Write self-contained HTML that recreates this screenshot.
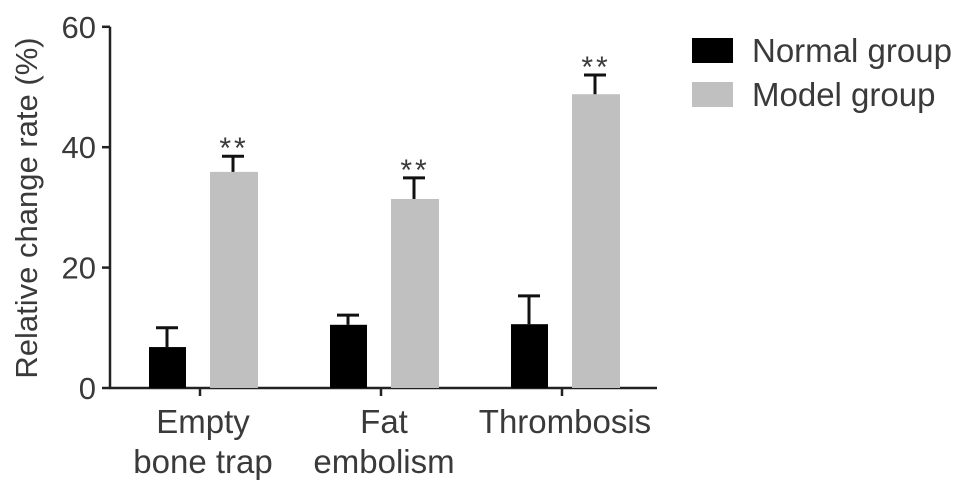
<!DOCTYPE html>
<html><head><meta charset="utf-8"><style>
body{margin:0;background:#fff;}
svg text{font-family:"Liberation Sans",Arial,sans-serif;fill:#3a3a3a;}
</style></head><body>
<svg id="chart" width="969" height="495" xmlns="http://www.w3.org/2000/svg"></svg>
<script>
const categories=[["Empty","bone trap"],["Fat","embolism"],["Thrombosis"]];
const normalValues=[6.8,10.5,10.6];
const normalErrors=[3.2,1.6,4.7];
const modelValues=[35.9,31.4,48.8];
const modelErrors=[2.6,3.5,3.2];
const yTicks=[0,20,40,60];
const sig=["**","**","**"];

const svg=document.getElementById('chart');
const NS="http://www.w3.org/2000/svg";
function mk(t,a,p){const e=document.createElementNS(NS,t);for(const k in a)e.setAttribute(k,a[k]);(p||svg).appendChild(e);return e;}
const y0=388,pxPerUnit=6.02;
function y(v){return y0-v*pxPerUnit;}
function gx(i){return 149+i*181;}

let ax=mk('line',{x1:110,y1:y(60),x2:110,y2:y0+1,stroke:'#222','stroke-width':2.5});

let xa=mk('line',{x1:109,y1:y0,x2:657,y2:y0,stroke:'#222','stroke-width':2.5});

yTicks.forEach(t=>{
  let l=mk('line',{x1:102,y1:y(t),x2:110,y2:y(t),stroke:'#222','stroke-width':2.5});
  
  let tx=mk('text',{x:96,y:y(t)+11,'text-anchor':'end','font-size':31});tx.textContent=t;
  
});
let yt=mk('text',{x:0,y:0,'text-anchor':'middle','font-size':31,transform:'translate(37,208) rotate(-90)'});
yt.textContent='Relative change rate (%)';


function errbar(cx,v,e){
  let g=mk('g',{});
  
  mk('line',{x1:cx,y1:y(v),x2:cx,y2:y(v+e),stroke:'#111','stroke-width':3},g);
  mk('line',{x1:cx-11,y1:y(v+e),x2:cx+11,y2:y(v+e),stroke:'#111','stroke-width':3},g);
}
categories.forEach((c,i)=>{
  const bx=gx(i);
  let b=mk('rect',{x:bx,y:y(normalValues[i]),width:37,height:normalValues[i]*pxPerUnit,fill:'#000'});
  
  errbar(bx+18,normalValues[i],normalErrors[i]);
  let m=mk('rect',{x:bx+61,y:y(modelValues[i]),width:48,height:modelValues[i]*pxPerUnit,fill:'#c0c0c0'});
  
  errbar(bx+84,modelValues[i],modelErrors[i]);
  let s=mk('text',{x:bx+85,y:y(modelValues[i]+modelErrors[i])+2,'text-anchor':'middle','font-size':30,'letter-spacing':'3'});
  s.textContent=sig[i];
  const tx=bx+51;
  let tk=mk('line',{x1:tx,y1:y0,x2:tx,y2:y0+8,stroke:'#222','stroke-width':2.5});
  
  c.forEach((ln,j)=>{
    let t=mk('text',{x:tx+3,y:433+j*40,'text-anchor':'middle','font-size':33});t.textContent=ln;
    
  });
});
[["Normal group","#000"],["Model group","#c0c0c0"]].forEach((l,i)=>{
  let g=mk('g',{});
  
  mk('rect',{x:692,y:38+i*44,width:41,height:25,fill:l[1]},g);
  let t=mk('text',{x:752,y:62+i*44,'font-size':33},g);t.textContent=l[0];
});
</script>
</body></html>
